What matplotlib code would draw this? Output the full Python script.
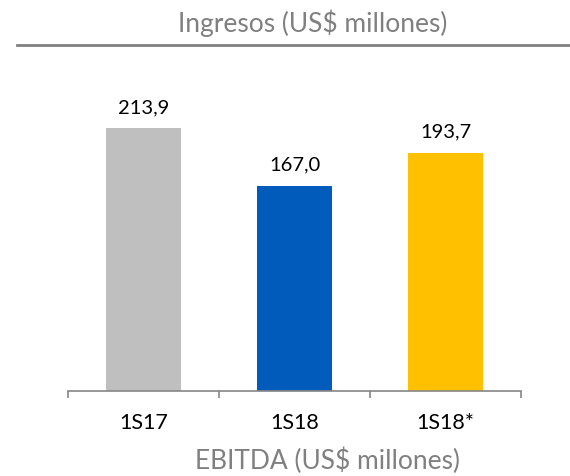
import matplotlib
matplotlib.use('Agg')
import matplotlib.pyplot as plt
import numpy as np
from matplotlib.lines import Line2D

plt.rcParams['font.family'] = ['Lato', 'DejaVu Sans']

periods = ['1S17', '1S18', '1S18*']
ebitda = [213.9, 167.0, 193.7]
colors = ['#BFBFBF', '#005BBB', '#FFC000']

fig = plt.figure(figsize=(5.7, 4.76), dpi=100)
ax = fig.add_axes([0.1193, 0.1786, 0.7947, 0.645])

xpos = np.arange(len(periods))
ax.bar(xpos, ebitda, width=0.5, color=colors)
for x, v in zip(xpos, ebitda):
    ax.annotate(f'{v:.1f}'.replace('.', ','), (x, v), xytext=(0, 11),
                textcoords='offset points', ha='center', va='baseline',
                fontsize=14.5, color='black')

ax.set_xlim(-0.5, len(periods) - 0.5)
ax.set_ylim(0, 250)
ax.set_yticks([])
for s in ['top', 'right', 'left']:
    ax.spines[s].set_visible(False)
ax.spines['bottom'].set_color('#868686')
ax.spines['bottom'].set_linewidth(1.2)

ax.set_xticks(xpos)
ax.set_xticklabels(periods, fontsize=15.5)
ax.set_xticks(np.arange(len(periods) + 1) - 0.5, minor=True)
ax.tick_params(axis='x', which='major', length=0, pad=16)
ax.tick_params(axis='x', which='minor', length=5, width=1.2, color='#868686')

fig.text(0.574, 0.0147, 'EBITDA (US$ millones)', ha='center', va='baseline',
         fontsize=19, color='#808080')
fig.text(0.548, 0.933, 'Ingresos (US$ millones)', ha='center', va='baseline',
         fontsize=19, color='#808080')
fig.add_artist(Line2D([0.03, 1.0], [0.9055, 0.9055], transform=fig.transFigure,
                      color='#808080', linewidth=2))

fig.savefig('out.png', dpi=100)
